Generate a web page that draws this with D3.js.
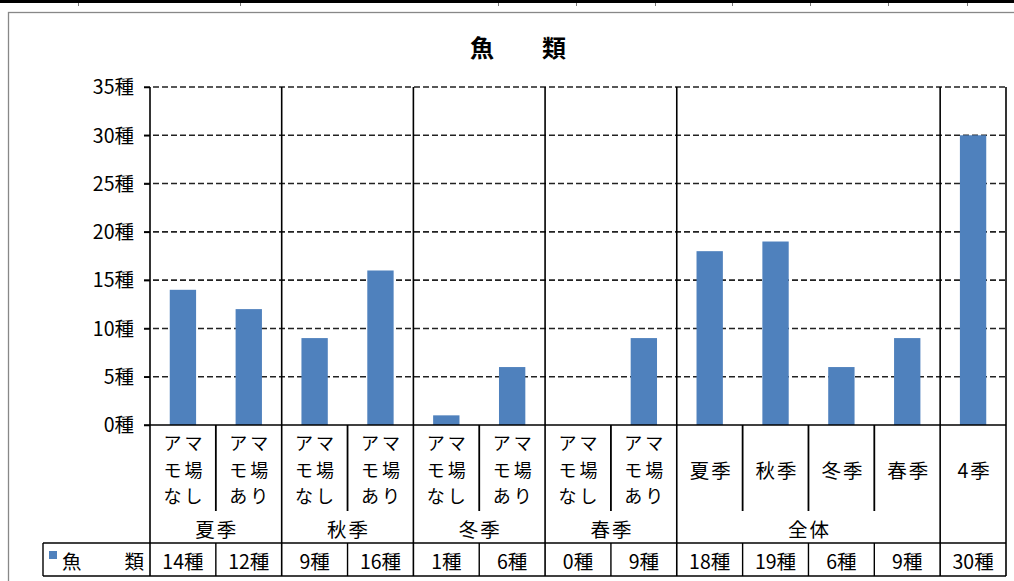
<!DOCTYPE html>
<html>
<head>
<meta charset="utf-8">
<script src="https://cdn.jsdelivr.net/npm/d3@7"></script>
<style>
  body { margin: 0; background: #fff; }
  svg { display: block; font-family: "Noto Sans CJK JP", "Noto Sans", sans-serif; }
</style>
</head>
<body>
<svg id="chart" width="1014" height="581"></svg>
<script>
// chart data
const title = "魚　　類";
const seriesName = ["魚", "類"]; // spread across the legend cell
const catLines = [
  ["アマ", "モ場", "なし"], ["アマ", "モ場", "あり"],
  ["アマ", "モ場", "なし"], ["アマ", "モ場", "あり"],
  ["アマ", "モ場", "なし"], ["アマ", "モ場", "あり"],
  ["アマ", "モ場", "なし"], ["アマ", "モ場", "あり"],
  ["夏季"], ["秋季"], ["冬季"], ["春季"],
  ["4季"]
];
const groupNames = ["夏季", "秋季", "冬季", "春季", "全体", ""];
const groupSizes = [2, 2, 2, 2, 4, 1];
const values = [14, 12, 9, 16, 1, 6, 0, 9, 18, 19, 6, 9, 30];
const yTicks = [0, 5, 10, 15, 20, 25, 30, 35];
const sheetCols = [78, 240, 498, 576, 655, 732, 810, 888, 967];

const fs = 19.5;
const svg = d3.select("#chart");

// spreadsheet edge above the chart
svg.append("rect").attr("x", 0).attr("y", 0).attr("width", 1014).attr("height", 3).attr("fill", "#000");
svg.selectAll(".colTick").data(sheetCols).join("line")
  .attr("x1", d => d + 0.5).attr("x2", d => d + 0.5)
  .attr("y1", 3).attr("y2", 6)
  .attr("stroke", "#777");

// chart frame
svg.append("rect")
  .attr("x", 8.5).attr("y", 12.5).attr("width", 1100).attr("height", 700)
  .attr("fill", "none").attr("stroke", "#888").attr("stroke-width", 1.3);

// plot area
const plotL = 150, plotR = 1006, plotT = 87, plotB = 425;
const catBottom = 511, tableTop = 543, tableBottom = 576, tableLeft = 43;

const x = d3.scaleBand().domain(d3.range(values.length)).range([plotL, plotR]);
const y = d3.scaleLinear().domain([0, 35]).range([plotB, plotT]);
const step = x.step();

// title
svg.append("text")
  .attr("x", 518).attr("y", 46)
  .attr("text-anchor", "middle").attr("dominant-baseline", "central")
  .attr("font-size", 24).attr("font-weight", "bold")
  .text(title);

// gridlines
svg.selectAll(".grid").data(yTicks.filter(d => d > 0)).join("line")
  .attr("x1", plotL - 6).attr("x2", plotR)
  .attr("y1", d => y(d)).attr("y2", d => y(d))
  .attr("stroke", "#222").attr("stroke-width", 1.6)
  .attr("stroke-dasharray", "6,3");

// y axis labels
const yAxis = d3.axisLeft(y).tickValues(yTicks).tickSize(6).tickFormat(d => d + "種");
const gy = svg.append("g").attr("transform", `translate(${plotL},0)`).call(yAxis);
gy.select(".domain").remove();
gy.selectAll(".tick line").attr("stroke", "#000").attr("stroke-width", 1.5);
gy.selectAll(".tick text")
  .attr("x", -16).attr("dy", "0.35em")
  .attr("font-size", fs).attr("fill", "#000")
  .attr("font-family", "'Noto Sans CJK JP', sans-serif");

// bars
svg.selectAll(".bar").data(values).join("rect")
  .attr("x", (d, i) => x(i) + step * 0.3)
  .attr("width", step * 0.4)
  .attr("y", d => y(d))
  .attr("height", d => y(0) - y(d))
  .attr("fill", "#4F81BD");

// baseline
svg.append("line")
  .attr("x1", plotL - 6).attr("x2", plotR)
  .attr("y1", y(0)).attr("y2", y(0))
  .attr("stroke", "#000").attr("stroke-width", 1.5);

// group boundaries
let acc = 0;
const groupStarts = groupSizes.map(s => { const st = acc; acc += s; return st; });
const groupEdges = groupStarts.map(s => x(s)).concat([plotR]);

svg.selectAll(".gline").data(groupEdges).join("line")
  .attr("x1", d => d).attr("x2", d => d)
  .attr("y1", plotT).attr("y2", tableBottom)
  .attr("stroke", "#000").attr("stroke-width", 1.6);

// category boundaries inside groups (label zone + table row)
const innerEdges = d3.range(1, values.length).filter(i => !groupStarts.includes(i));
svg.selectAll(".cline").data(innerEdges).join("line")
  .attr("x1", i => x(i)).attr("x2", i => x(i))
  .attr("y1", plotB).attr("y2", catBottom)
  .attr("stroke", "#000").attr("stroke-width", 1.8);
svg.selectAll(".tline").data(innerEdges).join("line")
  .attr("x1", i => x(i)).attr("x2", i => x(i))
  .attr("y1", tableTop).attr("y2", tableBottom)
  .attr("stroke", "#000").attr("stroke-width", 1.4);

// category labels (3 stacked lines for the アマモ場 ones)
const lineYs3 = [442, 468.5, 495];
catLines.forEach((lines, i) => {
  const cx = x(i) + step / 2;
  lines.forEach((t, j) => {
    svg.append("text")
      .attr("x", cx + 1.5)
      .attr("y", lines.length === 3 ? lineYs3[j] : 469)
      .attr("text-anchor", "middle").attr("dominant-baseline", "central")
      .attr("font-size", lines.length === 3 ? 18 : fs)
      .attr("letter-spacing", lines.length === 3 ? 3 : 2)
      .text(t);
  });
});

// group labels
groupNames.forEach((g, k) => {
  const cx = (groupEdges[k] + groupEdges[k + 1]) / 2;
  svg.append("text")
    .attr("x", cx + 1).attr("y", 528)
    .attr("text-anchor", "middle").attr("dominant-baseline", "central")
    .attr("font-size", fs).attr("letter-spacing", 2)
    .text(g);
});

// data table
[tableTop, tableBottom].forEach(yy => {
  svg.append("line")
    .attr("x1", tableLeft).attr("x2", plotR)
    .attr("y1", yy).attr("y2", yy)
    .attr("stroke", "#000").attr("stroke-width", 1.4);
});
svg.append("line")
  .attr("x1", tableLeft).attr("x2", tableLeft)
  .attr("y1", tableTop).attr("y2", tableBottom)
  .attr("stroke", "#000").attr("stroke-width", 1.4);

svg.append("rect")
  .attr("x", 49).attr("y", 551).attr("width", 8).attr("height", 8)
  .attr("fill", "#4F81BD");
svg.append("text").attr("x", 62).attr("y", 560)
  .attr("dominant-baseline", "central").attr("font-size", fs)
  .text(seriesName[0]);
svg.append("text").attr("x", 144).attr("y", 560)
  .attr("text-anchor", "end").attr("dominant-baseline", "central").attr("font-size", fs)
  .text(seriesName[1]);

svg.selectAll(".val").data(values).join("text")
  .attr("x", (d, i) => x(i) + step / 2)
  .attr("y", 560)
  .attr("text-anchor", "middle").attr("dominant-baseline", "central")
  .attr("font-size", fs)
  .text(d => d + "種");
</script>
</body>
</html>
